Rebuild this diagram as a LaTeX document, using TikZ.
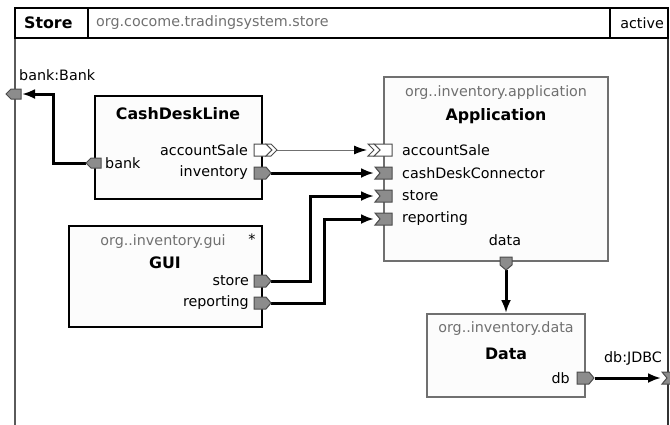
\documentclass[tikz,border=0pt]{standalone}
\usepackage{fontspec}
\setmainfont{DejaVu Sans}
\usetikzlibrary{arrows.meta}
\definecolor{pkg}{HTML}{707070}
\definecolor{portgray}{HTML}{8C8C8C}
\definecolor{boxfill}{HTML}{FCFCFC}
\definecolor{framec}{HTML}{5A5A5A}
\tikzset{
  reg/.style={font=\fontsize{14.3}{16}\selectfont, inner sep=0pt},
  bld/.style={font=\fontsize{15.8}{18}\selectfont\bfseries, inner sep=0pt},
  pkgtxt/.style={reg, text=pkg},
  strongbox/.style={draw=black, line width=2pt, fill=boxfill, inner sep=0pt, outer sep=0pt},
  softbox/.style={draw=pkg, line width=1.2pt, fill=boxfill, inner sep=0pt, outer sep=0pt},
  portshape/.style={draw=black!70, line width=1pt, fill=portgray, line join=miter},
  wportshape/.style={draw=black!70, line width=1pt, fill=white, line join=miter},
  conn/.style={line width=3pt, -{Latex[length=13pt,width=10pt]}},
  thinconn/.style={line width=1pt, draw=pkg, -{Latex[length=13pt,width=9pt,color=black]}},
  outR/.pic={\draw[portshape] (-8,-6)--(4,-6)--(9,0)--(4,6)--(-8,6)--cycle;},
  inL/.pic={\draw[portshape] (-9,-6)--(8,-6)--(8,6)--(-9,6)--(-4,0)--cycle;},
  outL/.pic={\draw[portshape] (6,-5)--(-4,-5)--(-9,0)--(-4,5)--(6,5)--cycle;},
  outD/.pic={\draw[portshape] (-6,-4)--(6,-4)--(6,4)--(0,9)--(-6,4)--cycle;},
  outRR/.pic={\draw[wportshape] (-8,-6)--(4,-6)--(10,0)--(4,6)--(-8,6)--cycle;
              \draw[wportshape] (4,-6)--(9,-6)--(15,0)--(9,6)--(4,6)--(10,0)--cycle;},
  inLL/.pic={\draw[wportshape] (-10,-6)--(8,-6)--(8,6)--(-10,6)--(-4,0)--cycle;
             \draw[wportshape] (-16,-6)--(-10,-6)--(-4,0)--(-10,6)--(-16,6)--(-10,0)--cycle;},
}
\begin{document}
\begin{tikzpicture}[x=1pt,y=-1pt]
\useasboundingbox (0,0) rectangle (670,424);
% frame
\draw[framec, line width=1.5pt] (15,38) -- (15,440);
\draw[black!80, line width=1.5pt] (668,38) -- (668,440);
\draw[black, line width=1.2pt] (15,8) rectangle (668,38);
\draw[black, line width=1.2pt] (88,8) -- (88,38);
\draw[black, line width=1.2pt] (610,8) -- (610,38);
\node[bld, anchor=west] (storeT) at (24,23) {Store};
\node[pkgtxt, anchor=west] (storeP) at (96,23) {org.cocome.tradingsystem.store};
\node[reg, anchor=east] (activeT) at (664,23) {active};

% boxes
\node[strongbox, minimum width=167pt, minimum height=103pt] (cdl) at (178.5,147.5) {};
\node[softbox, minimum width=224pt, minimum height=184pt] (app) at (496,169) {};
\node[strongbox, minimum width=193pt, minimum height=101pt] (gui) at (165.5,276.5) {};
\node[softbox, minimum width=158pt, minimum height=83pt] (data) at (506,355.5) {};

% coordinates of port ends
\coordinate (bankTip) at (86,163);
\coordinate (bankBend) at (53,163);
\coordinate (bankUp) at (53,94);
\coordinate (frameBank) at (22,94);
\coordinate (cdlAS) at (277,150);
\coordinate (appAS) at (367,150);
\coordinate (cdlInv) at (271,173);
\coordinate (appCDC) at (374,173);
\coordinate (guiStore) at (271,281);
\coordinate (sBend1) at (310,281);
\coordinate (sBend2) at (310,196);
\coordinate (appStore) at (374,196);
\coordinate (guiRep) at (271,303);
\coordinate (rBend1) at (324,303);
\coordinate (rBend2) at (324,219);
\coordinate (appRep) at (374,219);
\coordinate (appData) at (506,270);
\coordinate (dataIn) at (506,313);
\coordinate (dbTip) at (595,378);
\coordinate (frameDb) at (661,378);

% connectors
\draw[conn] (bankTip) -- (bankBend) -- (bankUp) -- (frameBank);
\draw[thinconn] (cdlAS) -- (appAS);
\draw[conn] (cdlInv) -- (appCDC);
\draw[conn] (guiStore) -- (sBend1) -- (sBend2) -- (appStore);
\draw[conn] (guiRep) -- (rBend1) -- (rBend2) -- (appRep);
\draw[conn] (appData) -- (dataIn);
\draw[conn] (dbTip) -- (frameDb);

% ports
\pic at (15,94) {outL};
\pic at (95,163) {outL};
\pic at (262,150) {outRR};
\pic at (262,173) {outR};
\pic at (384,150) {inLL};
\pic at (384,173) {inL};
\pic at (384,196) {inL};
\pic at (384,219) {inL};
\pic at (262,281) {outR};
\pic at (262,303) {outR};
\pic at (506,261) {outD};
\pic at (585,378) {outR};
\pic at (671,378) {inL};

% texts
\node[reg, anchor=west] (bankBankT) at (19,75) {bank:Bank};
\node[bld] (cdlT) at (178,114) {CashDeskLine};
\node[reg, anchor=west] (bankT) at (105,163) {bank};
\node[reg, anchor=east] (asT) at (248,150) {accountSale};
\node[reg, anchor=east] (invT) at (248,173) {inventory};

\node[pkgtxt] (appP) at (496,93) {org..inventory.application};
\node[bld] (appT) at (496,116) {Application};
\node[reg, anchor=west] (appAsT) at (402,150) {accountSale};
\node[reg, anchor=west] (appCdcT) at (402,173) {cashDeskConnector};
\node[reg, anchor=west] (appStT) at (402,196) {store};
\node[reg, anchor=west] (appRpT) at (402,219) {reporting};
\node[reg] (appDataT) at (505,240) {data};

\node[pkgtxt] (guiP) at (163,242) {org..inventory.gui};
\node[reg] (guiStar) at (252,239) {*};
\node[bld] (guiT) at (165,263) {GUI};
\node[reg, anchor=east] (guiStT) at (249,281) {store};
\node[reg, anchor=east] (guiRpT) at (249,303) {reporting};

\node[pkgtxt] (dataP) at (506,329) {org..inventory.data};
\node[bld] (dataT) at (506,354) {Data};
\node[reg, anchor=east] (dbT) at (570,378) {db};
\node[reg] (jdbcT) at (633,358) {db:JDBC};
\end{tikzpicture}
\end{document}
